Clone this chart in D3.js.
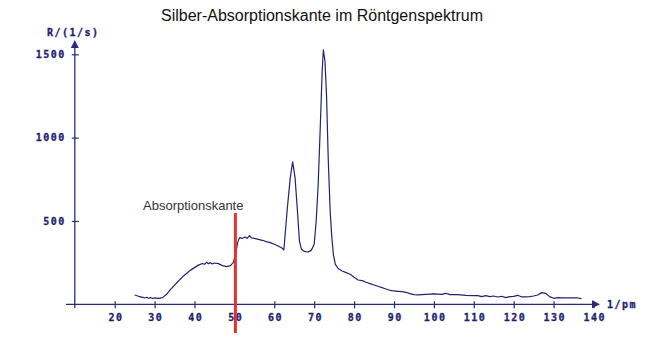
<!DOCTYPE html>
<html>
<head>
<meta charset="utf-8">
<script src="https://cdn.jsdelivr.net/npm/d3@7"></script>
<style>
  html, body { margin: 0; padding: 0; background: #fff; }
  svg { display: block; }
  .tick-label { font-family: "DejaVu Sans Mono", monospace; font-weight: bold; font-size: 10px; letter-spacing: 1.5px; fill: #1e1e6e; stroke: #1e1e6e; stroke-width: 0.3px; }
</style>
</head>
<body>
<script>
// Data
const wavelength = [25,26,27,27.5,28,28.5,29,29.5,30,31,32,33,34,35,36,37,38,39,40,41,42,42.5,43,43.5,44,44.5,45,46,47,48,49,49.7,50.3,50.8,51.3,52,52.7,53.2,53.8,54.3,55,56,57,58,59,60,61,62,62.4,63.2,64,64.6,65.2,65.8,66.3,66.8,67.5,68.5,69.3,70,70.5,71,71.5,72,72.3,72.7,73.1,73.5,74,74.4,74.8,75.3,76,77,78,79,80,81,82,83,84,85,86,87,88,89,90,91,92,93,94,95,96,97,98,100,102,103,104,106,108,110,111,112,113,114,115,116,117,118,119,120,121,122,123,124,125,126,127,128,129,130,131,132,134,136,137];
const rate = [56,48,42,38,42,36,40,36,38,36,40,60,90,115,140,165,185,205,220,235,245,240,252,244,250,242,248,244,232,226,232,250,300,370,400,396,404,396,412,398,396,390,384,376,370,360,350,336,326,560,760,855,760,560,380,330,318,314,325,360,500,720,1050,1400,1526,1460,1245,886,560,406,300,240,215,200,190,180,162,146,142,132,124,116,108,100,92,84,80,78,76,72,64,58,56,58,60,62,60,66,58,58,54,52,52,46,52,46,50,44,48,40,46,48,54,44,44,46,50,56,70,66,46,36,40,38,38,38,34];
const xTicks = [20,30,40,50,60,70,80,90,100,110,120,130,140];
const yTicks = [500,1000,1500];
const edgeWavelength = 50.25;
const edgeTop = 548;
const titleText = "Silber-Absorptionskante im Röntgenspektrum";
const edgeLabel = "Absorptionskante";
const yLabel = "R/(1/s)";
const xLabel = "1/pm";

const W = 649, H = 354;
const axisColor = "#2a2a78";
const svg = d3.select("body").append("svg").attr("width", W).attr("height", H);

const x = d3.scaleLinear().domain([20, 140]).range([114.7, 593.5]);
const y = d3.scaleLinear().domain([0, 1500]).range([304.3, 54.3]);
const x0 = x(10); // y-axis position
const y0 = y(0);

// Title
svg.append("text").attr("x", 322).attr("y", 21).attr("text-anchor", "middle")
  .attr("font-family", "Liberation Sans, Arial, sans-serif").attr("font-size", 16)
  .attr("fill", "#111").text(titleText);

// X axis
const xAxis = d3.axisBottom(x).tickValues(xTicks).tickSize(0).tickPadding(10);
const gx = svg.append("g").attr("transform", `translate(0,${y0})`).call(xAxis);
gx.select(".domain").remove();
gx.selectAll(".tick line").attr("y1", -3).attr("y2", 4).attr("stroke", axisColor).attr("stroke-width", 1.2);
gx.selectAll(".tick text").attr("class", "tick-label").attr("dy", "0.71em").attr("y", 10).attr("dx", "0.75px");
svg.append("line").attr("x1", 66).attr("x2", 592).attr("y1", y0).attr("y2", y0)
  .attr("stroke", axisColor).attr("stroke-width", 1.3);
svg.append("path").attr("d", `M${592},${y0-4} L${600},${y0} L${592},${y0+4} Z`).attr("fill", axisColor);
svg.append("text").attr("class", "tick-label").attr("x", 607).attr("y", y0 + 3.5).text(xLabel);

// Y axis
const yAxis = d3.axisLeft(y).tickValues(yTicks).tickSize(0).tickPadding(10).tickFormat(d3.format("d"));
const gy = svg.append("g").attr("transform", `translate(${x0},0)`).call(yAxis);
gy.select(".domain").remove();
gy.selectAll(".tick line").attr("x1", -3).attr("x2", 4).attr("stroke", axisColor).attr("stroke-width", 1.2);
gy.selectAll(".tick text").attr("class", "tick-label").attr("text-anchor", "end").attr("x", -9);
svg.append("line").attr("x1", x0).attr("x2", x0).attr("y1", 46).attr("y2", 308)
  .attr("stroke", axisColor).attr("stroke-width", 1.3);
svg.append("path").attr("d", `M${x0-4},${48} L${x0},${40} L${x0+4},${48} Z`).attr("fill", axisColor);
svg.append("text").attr("class", "tick-label").attr("x", 47).attr("y", 35.5).text(yLabel);

// Curve
const line = d3.line().x((d, i) => x(wavelength[i])).y(d => y(d));
svg.append("path").datum(rate).attr("d", line).attr("fill", "none")
  .attr("stroke", "#222272").attr("stroke-width", 1.2).attr("stroke-linejoin", "round");

// Absorption edge marker
svg.append("line").attr("x1", x(edgeWavelength)).attr("x2", x(edgeWavelength))
  .attr("y1", y(edgeTop)).attr("y2", 333).attr("stroke", "#e8312f").attr("stroke-width", 3);
svg.append("text").attr("x", 143).attr("y", 210)
  .attr("font-family", "Liberation Sans, Arial, sans-serif").attr("font-size", 13)
  .attr("fill", "#333").text(edgeLabel);
</script>
</body>
</html>
